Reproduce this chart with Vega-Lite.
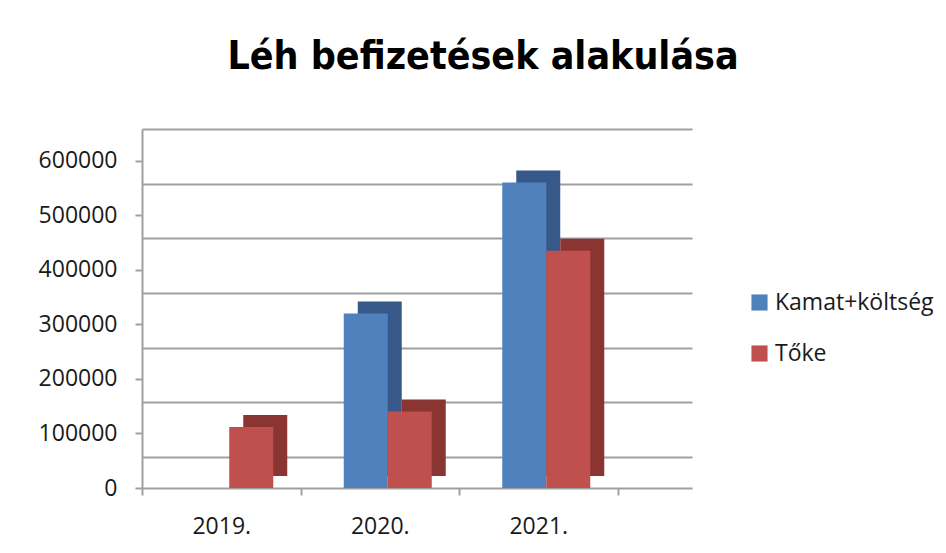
{
  "$schema": "https://vega.github.io/schema/vega-lite/v6.json",
  "autosize": {"type": "none"},
  "padding": {"left": 142, "top": 129, "right": 254, "bottom": 65},
  "width": 550,
  "height": 359,
  "background": "white",
  "config": {"view": {"stroke": null}},
  "title": {
    "text": "Léh befizetések alakulása",
    "font": "'Liberation Sans Narrow', 'DejaVu Sans Condensed', Roboto, sans-serif",
    "fontSize": 39,
    "fontWeight": "bold",
    "color": "#000000",
    "anchor": "middle",
    "baseline": "alphabetic",
    "dx": 66,
    "offset": 21
  },
  "data": {
    "values": [
      {"ev": "2019.", "sor": "Kamat+költség", "ertek": 0},
      {"ev": "2019.", "sor": "Tőke", "ertek": 112000},
      {"ev": "2020.", "sor": "Kamat+költség", "ertek": 320000},
      {"ev": "2020.", "sor": "Tőke", "ertek": 140000},
      {"ev": "2021.", "sor": "Kamat+költség", "ertek": 560000},
      {"ev": "2021.", "sor": "Tőke", "ertek": 435000}
    ]
  },
  "resolve": {"scale": {"y": "independent"}, "axis": {"y": "independent"}},
  "layer": [
    {
      "mark": {"type": "rule", "opacity": 0},
      "encoding": {
        "y": {
          "datum": 0,
          "type": "quantitative",
          "scale": {"domain": [-56800, 600000], "nice": false, "zero": false},
          "axis": {
            "orient": "right",
            "grid": true,
            "gridColor": "#a0a0a0",
            "gridWidth": 2,
            "labels": false,
            "ticks": false,
            "domain": false,
            "title": null,
            "values": [0, 100000, 200000, 300000, 400000, 500000, 600000]
          }
        }
      }
    },
    {
      "encoding": {
        "x": {
          "field": "ev",
          "type": "nominal",
          "title": null,
          "scale": {"paddingInner": 0, "paddingOuter": 0.235, "align": 0},
          "axis": {
            "tickBand": "extent",
            "labelAngle": 0,
            "labelFont": "Open Sans",
            "labelFontSize": 23,
            "labelColor": "#1a1a1a",
            "labelPadding": 20,
            "tickSize": 7,
            "tickWidth": 2,
            "tickColor": "#a0a0a0",
            "domainColor": "#a0a0a0",
            "domainWidth": 2
          }
        },
        "y": {
          "field": "ertek",
          "type": "quantitative",
          "title": null,
          "scale": {"domain": [0, 658000], "nice": false},
          "axis": {
            "orient": "left",
            "grid": false,
            "values": [0, 100000, 200000, 300000, 400000, 500000, 600000],
            "format": "d",
            "labelFont": "Open Sans",
            "labelFontSize": 23,
            "labelColor": "#1a1a1a",
            "labelPadding": 18,
            "tickSize": 7,
            "tickWidth": 2,
            "tickColor": "#a0a0a0",
            "domainColor": "#a0a0a0",
            "domainWidth": 2
          }
        }
      },
      "layer": [
        {
          "transform": [{"filter": "datum.sor === 'Kamat+költség'"}],
          "mark": {"type": "bar", "size": 44, "xOffset": 0, "yOffset": -12, "color": "#37598a"}
        },
        {
          "transform": [{"filter": "datum.sor === 'Kamat+költség'"}],
          "mark": {"type": "bar", "size": 44, "xOffset": -14},
          "encoding": {
            "color": {
              "field": "sor",
              "type": "nominal",
              "scale": {"domain": ["Kamat+költség", "Tőke"], "range": ["#4f81bd", "#c0504d"]},
              "legend": {
                "title": null,
                "orient": "none",
                "legendX": 606,
                "legendY": 162,
                "symbolType": "square",
                "symbolSize": 260,
                "symbolStrokeWidth": 0,
                "labelFont": "Open Sans",
                "labelFontSize": 23,
                "labelColor": "#1a1a1a",
                "labelOffset": 4,
                "rowPadding": 27
              }
            }
          }
        },
        {
          "transform": [{"filter": "datum.sor === 'Tőke'"}],
          "mark": {"type": "bar", "size": 44, "xOffset": 44, "yOffset": -12, "color": "#8b3533"}
        },
        {
          "transform": [{"filter": "datum.sor === 'Tőke'"}],
          "mark": {"type": "bar", "size": 44, "xOffset": 30},
          "encoding": {
            "color": {"field": "sor", "type": "nominal"}
          }
        }
      ]
    }
  ]
}
